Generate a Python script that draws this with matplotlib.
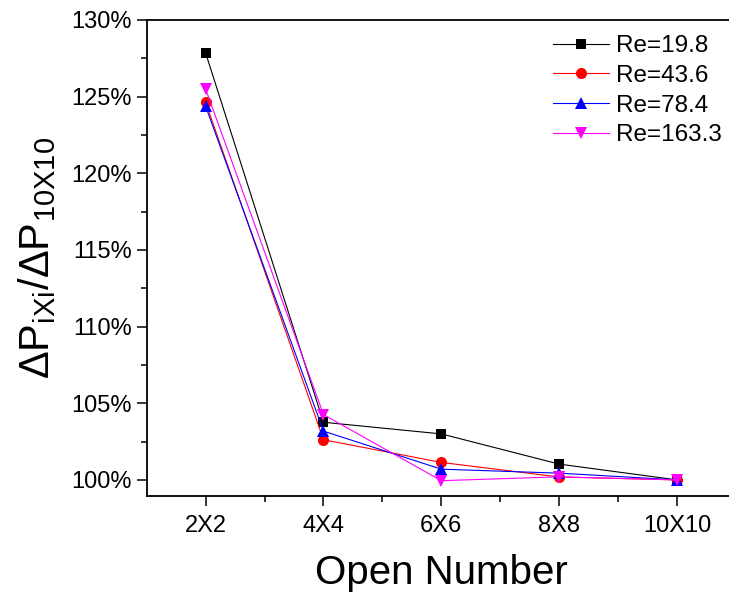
import matplotlib
matplotlib.use("Agg")
import matplotlib.pyplot as plt
from matplotlib.ticker import MultipleLocator, FuncFormatter, FixedLocator

plt.rcParams['font.family'] = ['Liberation Sans', 'DejaVu Sans']
plt.rcParams['mathtext.fontset'] = 'custom'
plt.rcParams['mathtext.rm'] = 'Liberation Sans'
plt.rcParams['mathtext.it'] = 'Liberation Sans'

# open-hole grid sizes and pressure drop ratio (%) per Reynolds number
open_number = ['2X2', '4X4', '6X6', '8X8', '10X10']
re_labels = ['Re=19.8', 'Re=43.6', 'Re=78.4', 'Re=163.3']
ratio_re19_8 = [127.85, 103.76, 103.0, 101.03, 100.0]
ratio_re43_6 = [124.63, 102.62, 101.14, 100.19, 100.0]
ratio_re78_4 = [124.37, 103.18, 100.7, 100.44, 100.0]
ratio_re163_3 = [125.5, 104.26, 99.95, 100.2, 100.0]

series = [ratio_re19_8, ratio_re43_6, ratio_re78_4, ratio_re163_3]
colors = ['black', 'red', 'blue', 'magenta']
markers = ['s', 'o', '^', 'v']
sizes = [7.5, 8, 8.5, 8.5]

fig = plt.figure(figsize=(7.29, 5.92), dpi=100)
ax = fig.add_axes([146.7 / 729, 1 - 496 / 592, (736 - 146.7) / 729, (496 - 20) / 592])

x = list(range(1, len(open_number) + 1))
for y, c, m, s, lab in zip(series, colors, markers, sizes, re_labels):
    ax.plot(x, y, color=c, marker=m, markersize=s, linewidth=0.8,
            markeredgewidth=0, label=lab)

ax.set_xlim(0.5, 5.5)
ax.set_ylim(98.95, 130)
ax.set_xticks(x)
ax.set_xticklabels(open_number)
ax.xaxis.set_minor_locator(FixedLocator([1.5, 2.5, 3.5, 4.5, 5.5]))
ax.yaxis.set_major_locator(MultipleLocator(5))
ax.yaxis.set_minor_locator(MultipleLocator(2.5))
ax.yaxis.set_major_formatter(FuncFormatter(lambda v, p: f'{v:.0f}%'))

ax.tick_params(which='both', direction='out', top=False, right=False,
               width=1.1, labelsize=17)
ax.tick_params(which='major', length=7)
ax.tick_params(which='minor', length=4)
ax.tick_params(axis='x', pad=7)
for side in ['left', 'bottom', 'top']:
    ax.spines[side].set_linewidth(1.3)
ax.spines['right'].set_visible(False)

ax.set_xlabel('Open Number', fontsize=29, labelpad=12)
ax.set_ylabel(r'$\Delta\mathregular{P_{iXi}/\Delta P_{10X10}}$', fontsize=30, labelpad=10)

ax.legend(loc='upper left', bbox_to_anchor=(553 / 729, 1 - 35 / 592),
          bbox_transform=fig.transFigure, frameon=False, fontsize=17.5,
          handlelength=2.3, handletextpad=0.3, labelspacing=0.32,
          borderpad=0, borderaxespad=0)

fig.savefig('out.png', dpi=100)
